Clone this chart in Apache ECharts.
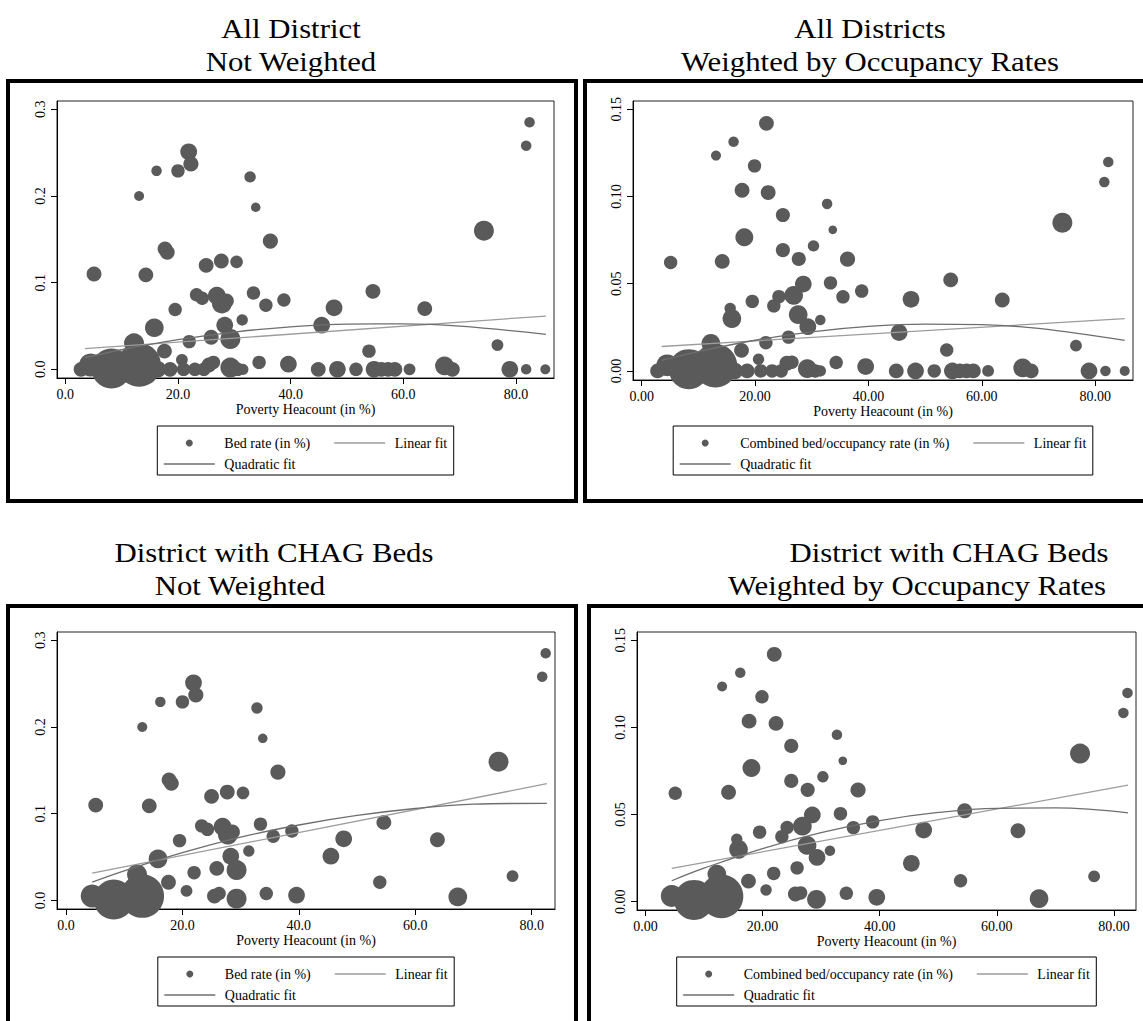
<!DOCTYPE html>
<html>
<head>
<meta charset="utf-8">
<script src="https://cdn.jsdelivr.net/npm/echarts@6/dist/echarts.min.js"></script>
<style>
html, body { margin: 0; padding: 0; background: #fff; }
#chart { width: 1143px; height: 1021px; }
</style>
</head>
<body>
<div id="chart"></div>
<script>
// ---- data ----
var xTicks = [0, 20, 40, 60, 80];
var bedTicks = [0, 0.1, 0.2, 0.3];
var combTicks = [0, 0.05, 0.10, 0.15];

// districts with CHAG beds: poverty headcount, bed rate, weight
var bedPoverty = [5.1, 13.1, 14.3, 16.2, 20.0, 21.9, 22.3, 17.7, 18.1, 32.8, 33.8, 36.4, 25.0, 27.7, 30.4, 23.3, 24.3, 26.9, 27.8, 28.6, 33.4, 35.6, 38.8, 19.5, 15.8, 31.4, 28.3, 29.3, 25.9, 22.0, 12.2, 17.6, 20.7, 34.4, 4.5, 8.2, 13.1, 25.5, 26.3, 29.3, 39.6, 45.5, 47.7, 53.9, 54.6, 63.8, 67.3, 74.3, 76.7, 81.8, 82.4];
var bedRate = [0.110, 0.200, 0.109, 0.229, 0.229, 0.251, 0.237, 0.139, 0.135, 0.222, 0.187, 0.148, 0.120, 0.125, 0.124, 0.086, 0.082, 0.085, 0.076, 0.079, 0.088, 0.074, 0.080, 0.069, 0.048, 0.057, 0.051, 0.035, 0.037, 0.032, 0.030, 0.021, 0.011, 0.008, 0.005, 0.001, 0.005, 0.005, 0.008, 0.002, 0.006, 0.051, 0.071, 0.021, 0.090, 0.070, 0.004, 0.160, 0.028, 0.258, 0.285];
var bedWeight = [2.2, 1.0, 2.2, 1.1, 1.8, 2.8, 2.3, 2.2, 2.2, 1.3, 0.9, 2.3, 2.2, 2.2, 1.6, 1.8, 1.8, 3.2, 4.0, 2.2, 1.8, 1.8, 1.8, 1.8, 3.5, 1.3, 2.8, 4.0, 2.2, 1.8, 4.0, 2.2, 1.4, 1.8, 5.3, 16, 19, 2.2, 1.8, 4.0, 2.8, 2.8, 2.8, 1.8, 2.2, 2.2, 3.5, 4.0, 1.4, 1.1, 1.1];

// same districts, combined bed/occupancy rate
var combPoverty = [5.1, 13.1, 14.2, 16.2, 19.9, 22.0, 22.3, 17.7, 18.1, 32.7, 33.7, 36.3, 24.9, 24.9, 27.7, 30.3, 28.5, 26.8, 24.2, 23.3, 33.3, 35.5, 38.8, 19.5, 15.9, 15.6, 27.6, 29.3, 31.5, 25.9, 21.9, 12.2, 17.6, 20.6, 34.3, 4.5, 8.3, 13.0, 25.6, 26.5, 29.2, 39.5, 45.4, 47.5, 53.8, 54.5, 63.6, 67.2, 74.2, 76.6, 81.6, 82.3];
var combRate = [0.0622, 0.1235, 0.0628, 0.1314, 0.1176, 0.142, 0.1023, 0.1036, 0.0767, 0.0958, 0.0809, 0.0641, 0.0894, 0.0693, 0.0642, 0.0717, 0.0498, 0.0433, 0.0426, 0.0373, 0.0505, 0.0425, 0.0458, 0.0399, 0.0300, 0.0359, 0.0323, 0.0254, 0.0292, 0.0194, 0.0162, 0.0158, 0.0118, 0.0067, 0.0048, 0.0032, 0.0010, 0.0030, 0.0044, 0.0050, 0.0013, 0.0025, 0.0220, 0.0411, 0.0120, 0.0522, 0.0407, 0.0017, 0.0850, 0.0145, 0.1083, 0.1198];
var combWeight = [1.8, 1.0, 2.2, 1.1, 1.8, 2.2, 2.2, 2.2, 3.2, 1.1, 0.75, 2.3, 2.0, 2.0, 2.0, 1.3, 2.8, 3.5, 1.8, 1.8, 1.8, 1.8, 1.8, 1.8, 3.5, 1.3, 3.5, 2.8, 1.1, 1.8, 1.8, 3.5, 2.2, 1.3, 1.8, 4.8, 16, 19, 2.2, 1.8, 3.5, 2.8, 2.8, 2.8, 1.8, 2.2, 2.2, 3.5, 4.0, 1.4, 1.1, 1.1];

// districts without CHAG beds (rate 0)
var zeroPoverty = [2.8, 16.4, 18.6, 21.0, 23.0, 24.6, 30.6, 31.5, 44.9, 48.3, 51.6, 54.8, 56.1, 57.3, 58.5, 61.1, 68.7, 78.9, 81.8, 85.2];
var zeroWeight = [2.2, 2.8, 2.2, 1.8, 1.8, 1.8, 1.8, 1.3, 2.2, 2.8, 1.8, 2.8, 2.2, 2.2, 2.2, 1.4, 2.2, 2.8, 1.1, 1.0];

// fitted lines
var allBedLinX = [3.5, 85.3], allBedLinY = [0.0238, 0.0615];
var allBedQuadX = [3.5, 10, 20, 30, 40, 50, 60, 70, 85.3];
var allBedQuadY = [0.0135, 0.0226, 0.0342, 0.0430, 0.0490, 0.0521, 0.0524, 0.0498, 0.0404];
var allCombLinX = [3.5, 85.2], allCombLinY = [0.014, 0.030];
var allCombQuadX = [3.5, 10, 20, 30, 40, 50, 60, 70, 85.2];
var allCombQuadY = [0.006, 0.0111, 0.0176, 0.0224, 0.0255, 0.0268, 0.0265, 0.0244, 0.0175];
var chagBedLinX = [4.5, 82.6], chagBedLinY = [0.0315, 0.1346];
var chagBedQuadX = [4.5, 10, 20, 30, 40, 50, 60, 70, 82.6];
var chagBedQuadY = [0.021, 0.034, 0.055, 0.073, 0.087, 0.098, 0.106, 0.111, 0.112];
var chagCombLinX = [4.5, 82.4], chagCombLinY = [0.0191, 0.0669];
var chagCombQuadX = [4.5, 10, 20, 30, 40, 50, 60, 70, 82.4];
var chagCombQuadY = [0.012, 0.0192, 0.0305, 0.0396, 0.0465, 0.0512, 0.0536, 0.0538, 0.051];

// ---- styling ----
var FONT = "'Liberation Serif', 'Times New Roman', serif";
var DOT = '#5a5a5a', LIN = '#9c9c9c', QUAD = '#6e6e6e';
var BED_NAME = 'Bed rate (in %)';
var COMB_NAME = 'Combined bed/occupancy rate (in %)';

function zip(xs, ys, ws) {
    return xs.map(function (x, i) { return ws ? [x, ys[i], ws[i]] : [x, ys[i]]; });
}
function zeros() {
    return zeroPoverty.map(function (x, i) { return [x, 0, zeroWeight[i]]; });
}

var ctx = document.createElement('canvas').getContext('2d');
function textW(s, size) {
    ctx.font = size + 'px "Liberation Serif"';
    return ctx.measureText(s).width;
}

var option = {
    animation: false,
    grid: [], xAxis: [], yAxis: [], series: [], legend: [], graphic: []
};

function legendItem(name, icon, left, rowCenter, w, h, gap) {
    return {
        orient: 'horizontal', left: left, top: rowCenter - 8, padding: 0,
        itemWidth: w, itemHeight: h, selectedMode: false,
        data: [{ name: name, icon: icon }],
        textStyle: { color: '#000', fontFamily: FONT, fontSize: 14, lineHeight: 16, padding: [0, 0, 0, gap - 5] }
    };
}

function addPanel(p, idx) {
    option.grid.push({ left: p.grid[0], top: p.grid[1], width: p.grid[2], height: p.grid[3],
        show: true, borderColor: '#222', borderWidth: 1 });
    option.xAxis.push({
        gridIndex: idx, type: 'value', min: p.xRange[0], max: p.xRange[1],
        axisLine: { show: true, onZero: false, lineStyle: { color: '#000', width: 1 } },
        axisTick: { show: true, length: 6, customValues: xTicks, lineStyle: { color: '#000' } },
        axisLabel: { customValues: xTicks, margin: 9, color: '#000', fontFamily: FONT, fontSize: 14,
            formatter: function (v) { return v.toFixed(p.xDigits); } },
        splitLine: { show: false },
        name: 'Poverty Heacount (in %)', nameLocation: 'middle', nameGap: 24,
        nameTextStyle: { color: '#000', fontFamily: FONT, fontSize: 14 }
    });
    option.yAxis.push({
        gridIndex: idx, type: 'value', min: p.yRange[0], max: p.yRange[1],
        axisLine: { show: true, onZero: false, lineStyle: { color: '#000', width: 1 } },
        axisTick: { show: true, length: 6, customValues: p.yTicks, lineStyle: { color: '#000' } },
        axisLabel: { customValues: p.yTicks, rotate: 90, margin: 10, color: '#000', fontFamily: FONT, fontSize: 14,
            formatter: function (v) { return v.toFixed(p.yDigits); } },
        splitLine: { show: false }
    });
    option.series.push({
        name: p.name, type: 'scatter', xAxisIndex: idx, yAxisIndex: idx, clip: false,
        data: p.points, symbolSize: function (v) { return 10 * Math.sqrt(v[2]); },
        itemStyle: { color: DOT, opacity: 1 }, z: 2
    });
    option.series.push({
        name: 'Linear fit', type: 'line', xAxisIndex: idx, yAxisIndex: idx,
        data: p.lin, symbol: 'none', lineStyle: { color: LIN, width: 1.3 }, itemStyle: { color: LIN }, z: 4
    });
    option.series.push({
        name: 'Quadratic fit', type: 'line', xAxisIndex: idx, yAxisIndex: idx,
        data: p.quad, smooth: 0.4, symbol: 'none', lineStyle: { color: QUAD, width: 1.3 }, itemStyle: { color: QUAD }, z: 4
    });

    // legend box: two rows, centred under the plot
    var KEY = 51, KEYGAP = 9.5, COLGAP = 24, PAD = 6.5;
    var t1 = textW(p.name, 14);
    var w = PAD * 2 + 2 * (KEY + KEYGAP) + t1 + COLGAP + textW('Linear fit', 14);
    var cx = p.grid[0] + p.grid[2] / 2;
    var boxLeft = cx - w / 2;
    var key0 = boxLeft + PAD;
    var r1 = p.legendRow, r2 = p.legendRow + 21;
    option.legend.push(legendItem(p.name, 'circle', key0 + KEY / 2 - 3.5, r1, 7, 7, KEY / 2 - 3.5 + KEYGAP));
    option.legend.push(legendItem('Linear fit', 'rect', key0 + KEY + KEYGAP + t1 + COLGAP, r1, KEY, 1.3, KEYGAP));
    option.legend.push(legendItem('Quadratic fit', 'rect', key0, r2, KEY, 1.3, KEYGAP));
    option.graphic.push({ type: 'rect', shape: { x: boxLeft, y: r1 - 17, width: w, height: 49 },
        style: { fill: 'none', stroke: '#000', lineWidth: 1 }, silent: true });

    // thick outer frame
    option.graphic.push({ type: 'rect', shape: { x: p.frame[0], y: p.frame[1], width: p.frame[2], height: p.frame[3] },
        style: { fill: 'none', stroke: '#000', lineWidth: 4 }, silent: true });
    // two-line title (slightly widened serif so the lines keep clear of each other)
    p.titles.forEach(function (t) {
        option.graphic.push({ type: 'text', x: t[1], y: t[2], scaleX: 1.1, silent: true,
            style: { text: t[0], fill: '#000', font: '28px ' + FONT, textAlign: 'center', textVerticalAlign: 'middle' } });
    });
}

addPanel({
    name: BED_NAME, grid: [57, 101, 497, 277], xRange: [-1.47, 86.74], yRange: [-0.0100, 0.3096],
    yTicks: bedTicks, xDigits: 1, yDigits: 1,
    points: zip(bedPoverty, bedRate, bedWeight).concat(zeros()),
    lin: zip(allBedLinX, allBedLinY), quad: zip(allBedQuadX, allBedQuadY),
    legendRow: 443, frame: [8, 81, 568, 420],
    titles: [['All District', 291, 28.5], ['Not Weighted', 291, 61]]
}, 0);
addPanel({
    name: COMB_NAME, grid: [633, 101, 500, 279], xRange: [-1.54, 86.66], yRange: [-0.0052, 0.1548],
    yTicks: combTicks, xDigits: 2, yDigits: 2,
    points: zip(combPoverty, combRate, combWeight).concat(zeros()),
    lin: zip(allCombLinX, allCombLinY), quad: zip(allCombQuadX, allCombQuadY),
    legendRow: 443, frame: [585, 81, 570, 420],
    titles: [['All Districts', 870, 28.5], ['Weighted by Occupancy Rates', 870, 61]]
}, 1);
addPanel({
    name: BED_NAME, grid: [57, 632, 498, 277], xRange: [-1.55, 84.0], yRange: [-0.0099, 0.3096],
    yTicks: bedTicks, xDigits: 1, yDigits: 1,
    points: zip(bedPoverty, bedRate, bedWeight),
    lin: zip(chagBedLinX, chagBedLinY), quad: zip(chagBedQuadX, chagBedQuadY),
    legendRow: 974, frame: [8, 606, 568, 440],
    titles: [['District with CHAG Beds', 274, 552.5], ['Not Weighted', 240, 585]]
}, 2);
addPanel({
    name: COMB_NAME, grid: [637, 632, 499, 278], xRange: [-1.43, 83.75], yRange: [-0.0048, 0.1548],
    yTicks: combTicks, xDigits: 2, yDigits: 2,
    points: zip(combPoverty, combRate, combWeight),
    lin: zip(chagCombLinX, chagCombLinY), quad: zip(chagCombQuadX, chagCombQuadY),
    legendRow: 974, frame: [589, 606, 570, 440],
    titles: [['District with CHAG Beds', 949, 552.5], ['Weighted by Occupancy Rates', 917, 585]]
}, 3);

var chart = echarts.init(document.getElementById('chart'), null, { renderer: 'svg' });
chart.setOption(option);
</script>
</body>
</html>
